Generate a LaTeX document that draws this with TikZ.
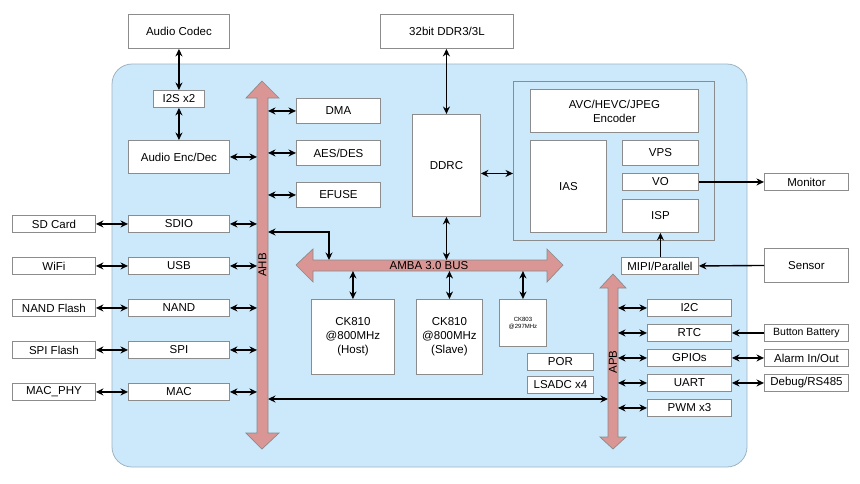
\documentclass[tikz,border=0pt]{standalone}
\usepackage{fontspec}
\setmainfont{Liberation Sans}
\usetikzlibrary{arrows.meta}
\definecolor{chipblue}{HTML}{CCE9FC}
\definecolor{chipedge}{HTML}{9FB3C2}
\definecolor{busred}{HTML}{D99694}
\definecolor{busedge}{HTML}{8A8A8A}
\definecolor{boxgray}{HTML}{8C8C8C}
\tikzset{
  box/.style={draw=boxgray, line width=0.9pt, fill=white, anchor=north west,
    inner sep=1pt, align=center, font=\fontsize{11.5}{14}\selectfont},
  bus/.style={fill=busred, draw=busedge, line width=0.7pt},
  buslabel/.style={font=\fontsize{11.5}{14}\selectfont, inner sep=0pt},
  con/.style={line width=1.4pt, draw=black},
  both/.style={con, {Stealth[length=7.5pt,width=7pt]}-{Stealth[length=7.5pt,width=7pt]}},
  one/.style={con, -{Stealth[length=7.5pt,width=7pt]}}
}
\newcommand\bx[6]{\node[box, minimum width=#4pt, minimum height=#5pt] (#1) at (#2,#3) {#6};}
\begin{document}
\begin{tikzpicture}[x=1pt,y=-1pt]
\useasboundingbox (0,0) rectangle (860,483);
% chip body
\path[fill=chipblue, draw=chipedge, line width=0.8pt, rounded corners=20pt] (112,64) rectangle (747,467);
\node[box, fill=chipblue, minimum width=201pt, minimum height=159pt] (encbox) at (513,81) {};
% buses
\path[bus] (262,81) -- (279,98) -- (268,98) -- (268,433) -- (279,433) -- (262,449) -- (246,433) -- (257,433) -- (257,98) -- (246,98) -- cycle;
\path[bus] (613,274) -- (626,288) -- (618,288) -- (618,437) -- (626,437) -- (613,449) -- (600,437) -- (608,437) -- (608,288) -- (600,288) -- cycle;
\path[bus] (296,265) -- (313,249) -- (313,260) -- (547,260) -- (547,249) -- (563,265) -- (547,282) -- (547,271) -- (313,271) -- (313,282) -- cycle;
\node[buslabel, rotate=90] (ahb) at (262.5,265) {AHB};
\node[buslabel, rotate=90] (apb) at (613,362) {APB};
\node[buslabel] (amba) at (429,265.5) {AMBA 3.0 BUS};
\coordinate (ahbL) at (257,0);
\coordinate (ahbR) at (268,0);
\coordinate (apbL) at (608,0);
\coordinate (apbR) at (618,0);
\coordinate (ambaT) at (0,260);
\coordinate (ambaB) at (0,271);
% boxes
\bx{codec}{128}{14}{101}{34}{Audio Codec}
\bx{ddr}{380}{14}{133}{34}{32bit DDR3/3L}
\bx{i2s}{153}{90}{51}{17}{I2S x2}
\bx{aenc}{128}{140}{101}{33}{Audio Enc/Dec}
\bx{dma}{296}{98}{84}{25}{DMA}
\bx{aes}{296}{140}{84}{25}{AES/DES}
\bx{efuse}{296}{182}{84}{25}{EFUSE}
\bx{sd}{12}{215}{83}{17}{SD Card}
\bx{sdio}{128}{215}{101}{17}{SDIO}
\bx{wifi}{12}{257}{83}{17}{WiFi}
\bx{usb}{128}{257}{101}{17}{USB}
\bx{nandf}{12}{299}{83}{17}{NAND Flash}
\bx{nand}{128}{299}{101}{17}{NAND}
\bx{spif}{12}{341}{83}{17}{SPI Flash}
\bx{spi}{128}{341}{101}{17}{SPI}
\bx{macphy}{12}{383}{83}{17}{MAC\_PHY}
\bx{mac}{128}{383}{101}{17}{MAC}
\bx{ddrc}{412}{114}{68}{102}{DDRC}
\bx{avc}{530}{89}{168}{43}{AVC/HEVC/JPEG\\Encoder}
\bx{ias}{530}{140}{76}{92}{IAS}
\bx{vps}{622}{140}{76}{25}{VPS}
\bx{vo}{622}{173}{76}{17}{VO}
\bx{isp}{622}{199}{76}{33}{ISP}
\bx{monitor}{764}{173}{84}{17}{Monitor}
\bx{mipi}{621}{257}{77}{17}{MIPI/Parallel}
\bx{sensor}{764}{248}{84}{34}{Sensor}
\bx{host}{311}{299}{83}{75}{CK810\\@800MHz\\(Host)}
\bx{slave}{416}{299}{66}{75}{CK810\\@800MHz\\(Slave)}
\node[box, minimum width=47pt, minimum height=47pt, font=\fontsize{6}{7}\selectfont] (ck803) at (499,299) {CK803\\@297MHz};
\bx{por}{527}{353}{66}{17}{POR}
\bx{lsadc}{527}{376}{66}{17}{LSADC x4}
\bx{i2c}{647}{299}{84}{17}{I2C}
\bx{rtc}{647}{324}{84}{17}{RTC}
\bx{gpio}{647}{349}{84}{17}{GPIOs}
\bx{uart}{647}{374}{84}{17}{UART}
\bx{pwm}{647}{399}{84}{17}{PWM x3}
\node[box, minimum width=84pt, minimum height=17pt, font=\fontsize{10.5}{12}\selectfont] (batt) at (764,324) {Button Battery};
\bx{alarm}{764}{349}{84}{17}{Alarm In/Out}
\bx{debug}{764}{374}{84}{17}{Debug/RS485}
% connectors
\draw[both] (codec.south) -- (i2s.north);
\draw[both] (i2s.south) -- (aenc.north);
\draw[both] (aenc.east) -- (aenc.east -| ahbL);
\draw[both] (dma.west) -- (dma.west -| ahbR);
\draw[both] (aes.west) -- (aes.west -| ahbR);
\draw[both] (efuse.west) -- (efuse.west -| ahbR);
\foreach \e/\i in {sd/sdio, wifi/usb, nandf/nand, spif/spi, macphy/mac}{
  \draw[both] (\e.east) -- (\i.west);
  \draw[both] (\i.east) -- (\i.east -| ahbL);
}
\draw[both] (ddrc.north) -- (ddrc.north |- ddr.south);
\draw[both] ([yshift=-8pt]ddrc.east) -- ([yshift=-8pt]ddrc.east -| encbox.west);
\coordinate (elb) at (329,232);
\draw[both] (elb -| ahbR) -- (elb) -- (elb |- ambaT);
\draw[both] (ddrc.south) -- (ddrc.south |- ambaT);
\draw[both] (host.north) -- (host.north |- ambaB);
\draw[both] (slave.north) -- (slave.north |- ambaB);
\draw[both] (ck803.north) -- (ck803.north |- ambaB);
\draw[one] (vo.east) -- (monitor.west);
\draw[one] (mipi.north -| isp.south) -- (isp.south);
\draw[one] (sensor.west) -- (mipi.east);
\foreach \p in {i2c, rtc, gpio, uart, pwm}{
  \draw[both] (\p.west -| apbR) -- (\p.west);
}
\draw[one] (batt.west) -- (rtc.east);
\draw[both] (gpio.east) -- (alarm.west);
\draw[both] (uart.east) -- (debug.west);
\coordinate (ahbX) at (268,399);
\coordinate (apbX) at (608,399);
\draw[both] (ahbX) -- (apbX);
\end{tikzpicture}
\end{document}
